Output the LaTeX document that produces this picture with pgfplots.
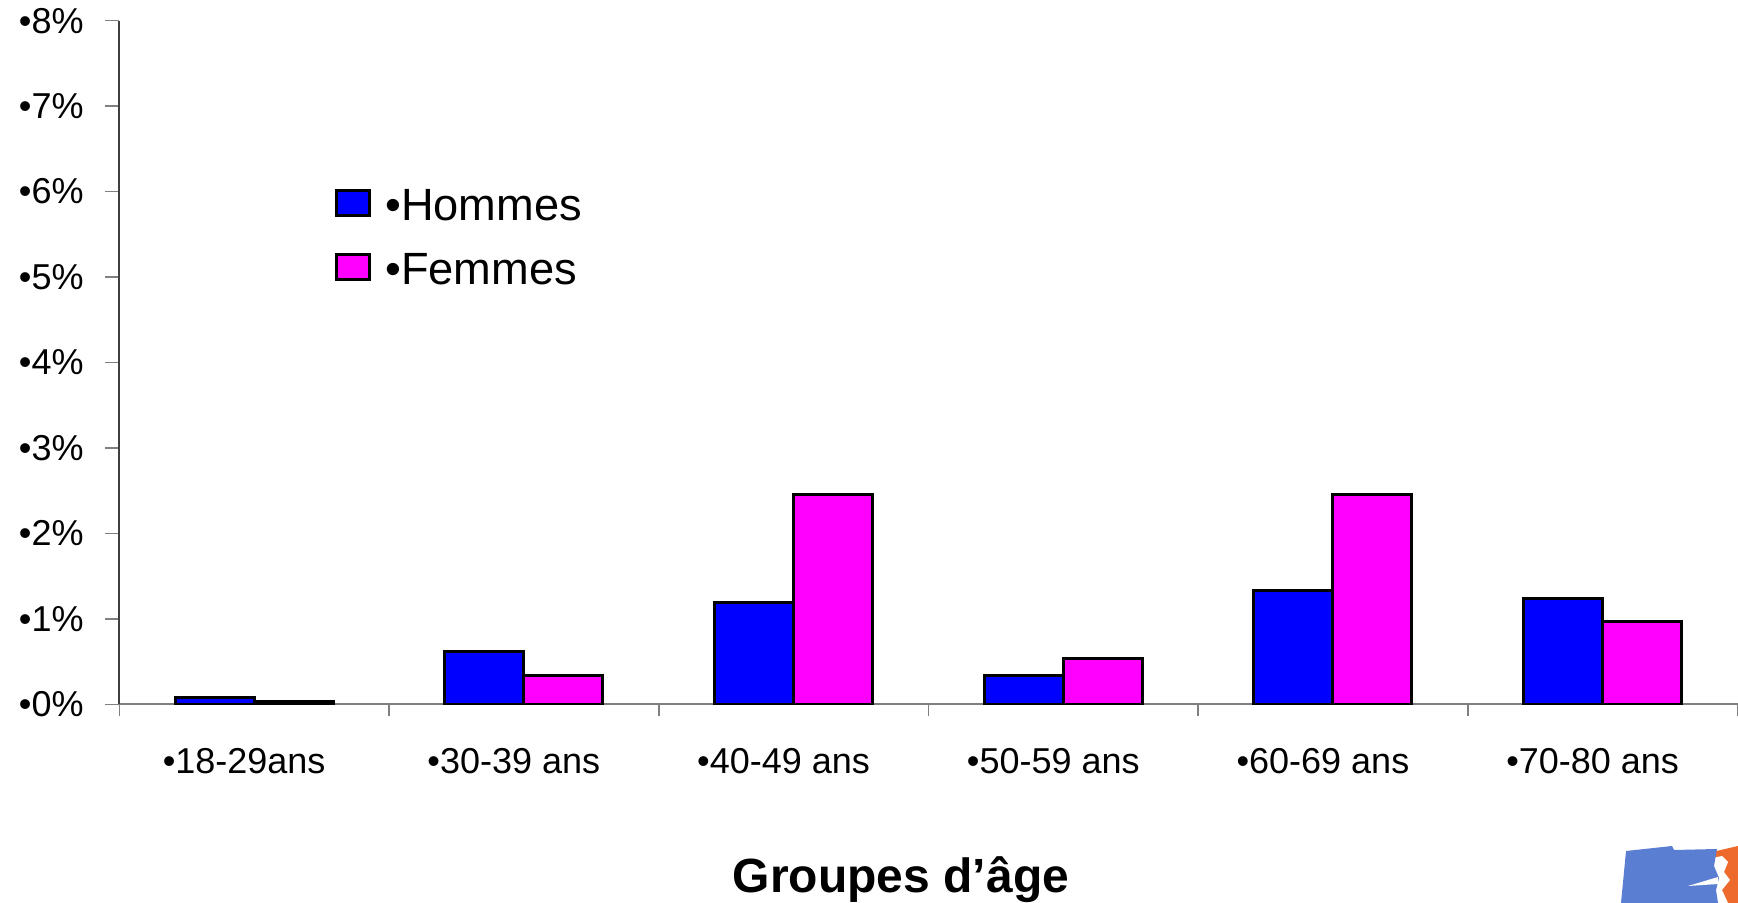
\documentclass[border=0pt]{standalone}
\usepackage{fontspec}
\setmainfont{Liberation Sans}
\usepackage{pgfplots}
\pgfplotsset{compat=1.18}

\definecolor{hommes}{HTML}{0000FF}
\definecolor{femmes}{HTML}{FF00FF}
\definecolor{axisgray}{HTML}{808080}
\definecolor{logoblue}{HTML}{5A7ED2}
\definecolor{logoorange}{HTML}{EE6A2C}

\begin{document}
\begin{tikzpicture}
\useasboundingbox (-59.65pt,-99.35pt) rectangle (809.35pt,352.15pt);
\begin{axis}[
  at={(0pt,0pt)}, anchor=south west,
  scale only axis, width=809.1pt, height=341.8pt,
  xmin=0.5, xmax=6.5, ymin=0, ymax=8,
  axis lines*=left,
  x axis line style={axisgray, line width=1pt},
  y axis line style={black!75, line width=1pt},
  ybar=0pt, bar width=39.5pt,
  xtick={1,...,6},
  xticklabels={•18-29ans, •30-39 ans, •40-49 ans, •50-59 ans, •60-69 ans, •70-80 ans},
  minor xtick={0.5,1.5,...,6.5},
  ytick={0,...,8},
  yticklabels={•0\%, •1\%, •2\%, •3\%, •4\%, •5\%, •6\%, •7\%, •8\%},
  tick align=outside,
  major tick length=7pt, minor tick length=6pt,
  major x tick style={draw=none},
  minor x tick style={axisgray, line width=0.8pt},
  y tick style={axisgray, line width=0.8pt},
  tick label style={font=\fontsize{18}{21}\selectfont},
  yticklabel style={anchor=east, xshift=-7.3pt},
  xticklabel style={anchor=base, yshift=-27.7pt, xshift=-5pt},
  xlabel={\bfseries Groupes d’âge},
  xlabel style={font=\fontsize{24}{28}\selectfont, at={(rel axis cs:0.5,0)}, anchor=base, yshift=-94pt, xshift=-13.7pt},
  legend style={draw=none, fill=none, at={(rel axis cs:0.1333,0.760)}, anchor=north west,
    font=\fontsize{22.6}{27}\selectfont, inner sep=0pt, row sep=11pt, cells={anchor=west}},
  legend image code/.code={\draw[#1, line width=1.5pt] (0pt,-4.8pt) rectangle (16.5pt,8pt);},
]
\addplot[fill=hommes, draw=black, line width=1.5pt] coordinates {
  (1,0.08) (2,0.62) (3,1.19) (4,0.34) (5,1.33) (6,1.24)};
\addplot[fill=femmes, draw=black, line width=1.5pt] coordinates {
  (1,0.03) (2,0.34) (3,2.46) (4,0.54) (5,2.46) (6,0.97)};
\legend{\hspace{5pt}•Hommes, \hspace{5pt}•Femmes}
\end{axis}
% logo in the lower right corner
\begin{scope}[x=0.5pt, y=-0.5pt, shift={(-59.65pt,352.15pt)}]
  \fill[logoorange] (1712,852) -- (1738,846) -- (1738,903) -- (1712,903) -- cycle;
  \fill[white] (1712,858) -- (1722,856) -- (1728,862) -- (1724,872) -- (1730,880)
    -- (1722,890) -- (1728,903) -- (1712,903) -- cycle;
  \fill[logoblue] (1626,851) -- (1672,846) -- (1674,850) -- (1717,849) -- (1714,866)
    -- (1719,878) -- (1716,890) -- (1718,903) -- (1621,903) -- cycle;
  \fill[white] (1688,886) -- (1718,877) -- (1718,884) -- cycle;
\end{scope}
\end{tikzpicture}
\end{document}
